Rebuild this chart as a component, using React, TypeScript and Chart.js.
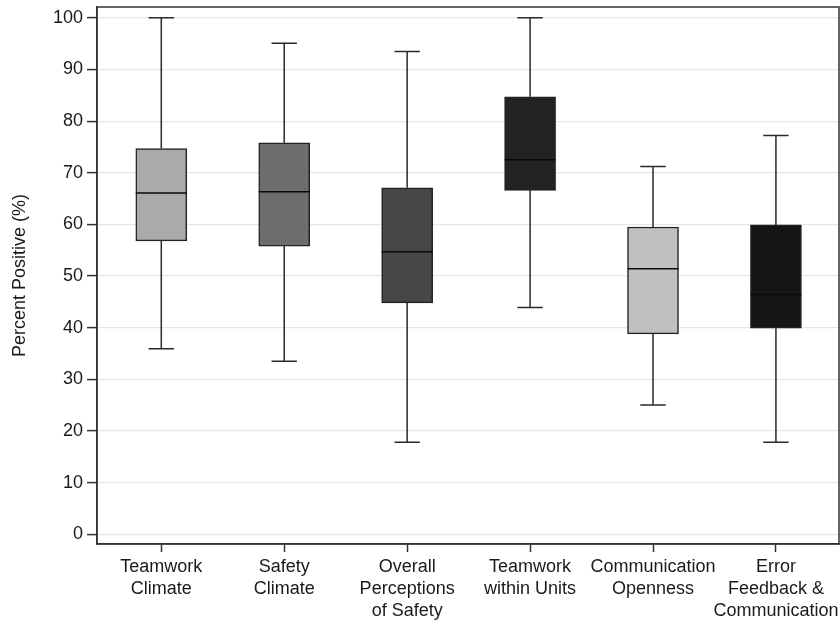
import React, { useEffect, useRef } from "react";
import { Chart, registerables } from "chart.js";

Chart.register(...registerables);

const categories: string[][] = [
  ["Teamwork", "Climate"],
  ["Safety", "Climate"],
  ["Overall", "Perceptions", "of Safety"],
  ["Teamwork", "within Units"],
  ["Communication", "Openness"],
  ["Error", "Feedback &", "Communication"],
];
const minValues = [35.9, 33.5, 17.8, 43.9, 25.0, 17.8];
const q1Values = [56.8, 55.8, 44.8, 66.6, 38.8, 39.9];
const medianValues = [66.1, 66.3, 54.7, 72.5, 51.4, 46.4];
const q3Values = [74.7, 75.8, 67.1, 84.7, 59.5, 59.9];
const maxValues = [100, 95.1, 93.5, 100, 71.2, 77.2];
const boxColors = ["#aaaaaa", "#6d6d6d", "#474747", "#232323", "#c0c0c0", "#151515"];
const yTickStep = 10;
const yAxisTitle = "Percent Positive (%)";

const boxPlugin = {
  id: "boxWhiskers",
  beforeDatasetsDraw(chart: any) {
    const { ctx, scales } = chart;
    const xs = scales.x;
    const ys = scales.y;
    ctx.save();
    ctx.strokeStyle = "#2a2a2a";
    ctx.lineWidth = 1.5;
    for (let i = 0; i < categories.length; i++) {
      const x = xs.getPixelForValue(i + 1);
      const yMin = ys.getPixelForValue(minValues[i]);
      const yQ1 = ys.getPixelForValue(q1Values[i]);
      const yQ3 = ys.getPixelForValue(q3Values[i]);
      const yMax = ys.getPixelForValue(maxValues[i]);
      const cap = 12.7;
      ctx.beginPath();
      ctx.moveTo(x, yQ1);
      ctx.lineTo(x, yMin);
      ctx.moveTo(x - cap, yMin);
      ctx.lineTo(x + cap, yMin);
      ctx.moveTo(x, yQ3);
      ctx.lineTo(x, yMax);
      ctx.moveTo(x - cap, yMax);
      ctx.lineTo(x + cap, yMax);
      ctx.stroke();
    }
    ctx.restore();
  },
  afterDatasetsDraw(chart: any) {
    const { ctx, scales, chartArea } = chart;
    const xs = scales.x;
    const ys = scales.y;
    ctx.save();
    ctx.strokeStyle = "#0a0a0a";
    ctx.lineWidth = 1.5;
    for (let i = 0; i < categories.length; i++) {
      const x = xs.getPixelForValue(i + 1);
      const y = ys.getPixelForValue(medianValues[i]);
      ctx.beginPath();
      ctx.moveTo(x - 25.5, y);
      ctx.lineTo(x + 25.5, y);
      ctx.stroke();
    }
    ctx.strokeStyle = "#333333";
    ctx.lineWidth = 1.5;
    ctx.strokeRect(chartArea.left, chartArea.top, chartArea.right - chartArea.left, chartArea.bottom - chartArea.top);
    ctx.restore();
  },
};

export default function App() {
  const ref = useRef<HTMLCanvasElement | null>(null);
  useEffect(() => {
    if (!ref.current) return;
    Chart.defaults.font.family = "'Liberation Sans', Arial, sans-serif";
    const chart = new Chart(ref.current, {
      type: "bar",
      data: {
        datasets: [
          {
            data: q1Values.map((v, i) => ({ x: i + 1, y: [v, q3Values[i]] })) as any,
            backgroundColor: boxColors,
            borderColor: "#222222",
            borderWidth: 1.5,
            borderSkipped: false,
            barThickness: 51,
          },
        ],
      },
      options: {
        animation: false,
        responsive: false,
        layout: { padding: { left: 0, top: 7, right: 1, bottom: 0 } },
        plugins: {
          legend: { display: false },
          tooltip: { enabled: false },
        },
        scales: {
          x: {
            type: "linear",
            min: 0.477,
            max: 6.513,
            offset: false,
            grid: {
              offset: false,
              drawOnChartArea: false,
              drawTicks: true,
              tickLength: 8,
              tickColor: "#333333",
              tickWidth: 1.5,
            },
            border: { display: true, color: "#333333", width: 1.5 },
            ticks: {
              stepSize: 1,
              includeBounds: false,
              color: "#1a1a1a",
              font: { size: 18, lineHeight: 1.22 },
              padding: 4,
              maxRotation: 0,
              autoSkip: false,
              callback: (value: any) => {
                const idx = Math.round(Number(value)) - 1;
                return categories[idx] || "";
              },
            },
            afterFit: (scale: any) => {
              scale.height = 79;
              scale.paddingLeft = 0;
              scale.paddingRight = 0;
            },
          },
          y: {
            min: -1.9,
            max: 102.1,
            grid: {
              color: "#e6e6e6",
              lineWidth: 1.2,
              tickColor: "#333333",
              tickLength: 10,
              tickWidth: 1.5,
            },
            border: { display: true, color: "#333333", width: 1.5 },
            ticks: {
              stepSize: yTickStep,
              includeBounds: false,
              color: "#1a1a1a",
              font: { size: 18 },
              padding: 4,
            },
            title: {
              display: true,
              text: yAxisTitle,
              color: "#1a1a1a",
              font: { size: 18 },
              padding: { top: 9, bottom: 0 },
            },
            afterFit: (scale: any) => {
              scale.width = 97;
              scale.paddingTop = 0;
              scale.paddingBottom = 0;
            },
          },
        },
      },
      plugins: [boxPlugin],
    });
    return () => chart.destroy();
  }, []);
  return (
    <div style={{ position: "absolute", left: 0, top: 0, width: 840, height: 623, background: "#fff" }}>
      <canvas ref={ref} width={840} height={623} />
    </div>
  );
}
